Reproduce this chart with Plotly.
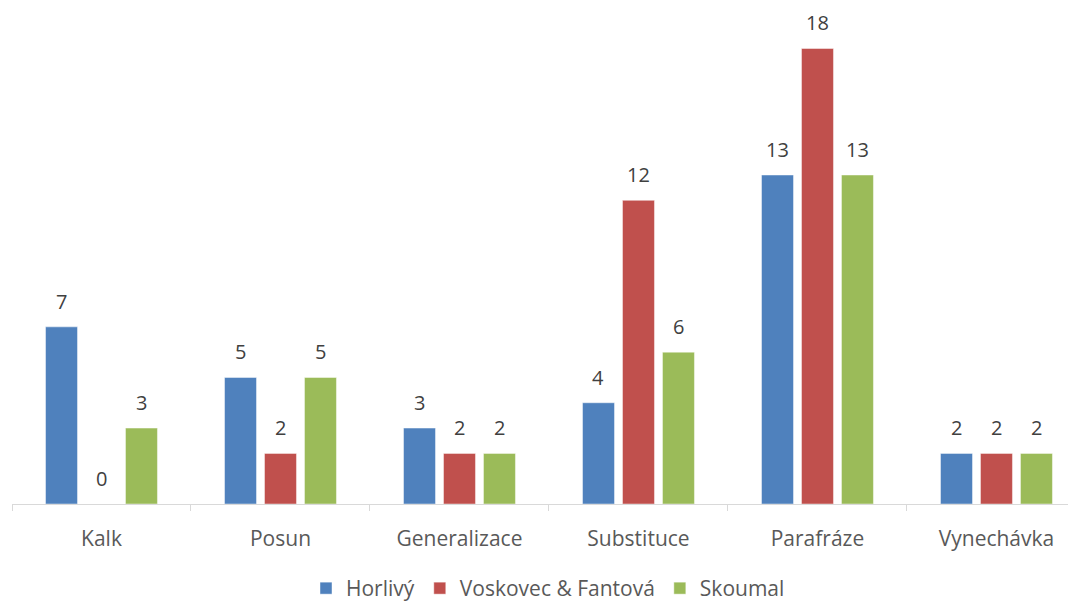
import plotly.graph_objects as go

categories = ["Kalk", "Posun", "Generalizace", "Substituce", "Parafráze", "Vynechávka"]
horlivy = [7, 5, 3, 4, 13, 2]
voskovec = [0, 2, 2, 12, 18, 2]
skoumal = [3, 5, 2, 6, 13, 2]
series_names = ["Horlivý", "Voskovec & Fantová", "Skoumal"]
colors = ["#4F81BD", "#C0504D", "#9BBB59"]

FONT = "Open Sans"

fig = go.Figure()
all_series = [horlivy, voskovec, skoumal]
for name, vals, col in zip(series_names, all_series, colors):
    fig.add_trace(go.Bar(
        x=categories, y=vals, name=name,
        marker=dict(color=col, line=dict(width=1, color="rgba(255,255,255,0.45)")),
    ))

# data labels above bars
for i, vals in enumerate(all_series):
    for c, v in zip(categories, vals):
        fig.add_annotation(
            x=c, y=v, text=str(v), showarrow=False,
            xanchor="center", yanchor="bottom",
            xshift=(i - 1) * 40, yshift=10,
            font=dict(family=FONT, size=20, color="#404040"),
        )

fig.update_layout(
    width=1076, height=601,
    margin=dict(l=4, r=0, t=0, b=102),
    plot_bgcolor="white", paper_bgcolor="white",
    barmode="group", bargap=0.33, bargroupgap=0.2,
    font=dict(family=FONT, size=21, color="#595959"),
    showlegend=True,
    legend=dict(orientation="h", x=0.5, xanchor="center", y=-0.13, yanchor="top",
                font=dict(family=FONT, size=21, color="#595959"), itemwidth=30),
    xaxis=dict(range=[-0.5, 5.489], showline=True, linecolor="#d9d9d9", linewidth=1,
               ticks="outside", tickson="boundaries", tickcolor="#d9d9d9", ticklen=6,
               ticklabelstandoff=16, automargin=False,
               tickfont=dict(family=FONT, size=21, color="#595959"), showgrid=False),
    yaxis=dict(range=[0, 19.6], visible=False, showgrid=False, zeroline=False),
)

fig.write_html("out.html")
